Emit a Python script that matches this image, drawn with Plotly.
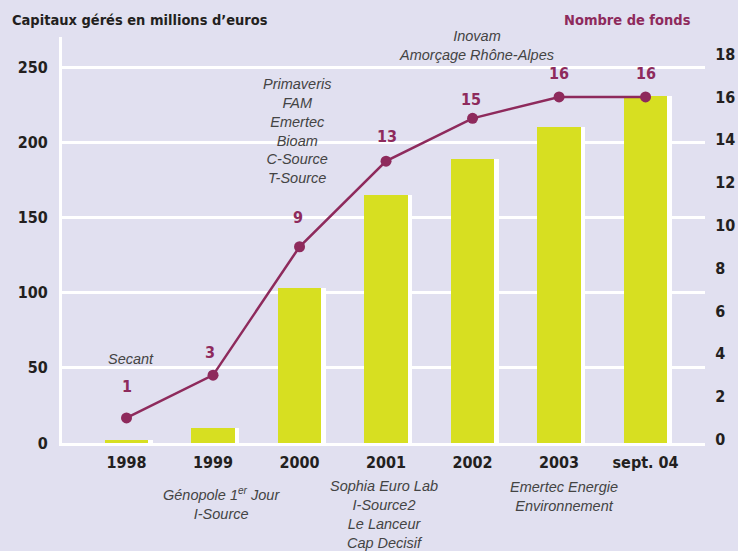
import plotly.graph_objects as go

categories = ["1998", "1999", "2000", "2001", "2002", "2003", "sept. 04"]
capitaux = [2, 10, 103, 165, 189, 210, 231]
nb_fonds = [1, 3, 9, 13, 15, 16, 16]
left_ticks = [0, 50, 100, 150, 200, 250]
right_ticks = [0, 2, 4, 6, 8, 10, 12, 14, 16, 18]

above_notes = [
    (0, "Secant"),
    (2, "Primaveris<br>FAM<br>Emertec<br>Bioam<br>C-Source<br>T-Source"),
    (4, "Inovam<br>Amorçage Rhône-Alpes"),
]
below_notes = [
    (1, "Génopole 1<sup>er</sup> Jour<br>I-Source"),
    (3, "Sophia Euro Lab<br>I-Source2<br>Le Lanceur<br>Cap Decisif"),
    (5, "Emertec Energie<br>Environnement"),
]

BG = "#e1e0f0"
BAR = "#d7df21"
LINE = "#8e2a5c"
DARK = "#231f20"
COND = "DejaVu Sans Condensed, Liberation Sans Narrow, Roboto, sans-serif"
ITAL = "Liberation Sans, Arial, sans-serif"

# style: pixel offsets of the count labels relative to their points
label_yshift = [31, 23, 29, 25, 19, 23, 23]
label_xshift = [0, -3, -2, 1, -2, 0, 0]

xs = list(range(len(categories)))

fig = go.Figure()
# white "shadow" bars offset right
fig.add_trace(go.Bar(x=[x + 0.055 for x in xs], y=capitaux, width=0.5,
                     marker=dict(color="white", line=dict(width=0)),
                     hoverinfo="skip", showlegend=False))
fig.add_trace(go.Bar(x=xs, y=capitaux, width=0.5,
                     marker=dict(color=BAR, line=dict(width=0)),
                     showlegend=False))
fig.add_trace(go.Scatter(x=xs, y=nb_fonds, yaxis="y2", mode="lines+markers",
                         line=dict(color=LINE, width=2.5),
                         marker=dict(color=LINE, size=11),
                         showlegend=False))

annotations = []
for x, v, dy, dx in zip(xs, nb_fonds, label_yshift, label_xshift):
    annotations.append(dict(x=x, y=v, xref="x", yref="y2", text="<b>%d</b>" % v,
                            showarrow=False, yshift=dy, xshift=dx,
                            font=dict(family=COND, size=16, color=LINE)))

note_pos_above = {0: (0.207, 4), 2: (0.768, -3), 4: (0.979, 4)}
for x, t in above_notes:
    py, xs_ = note_pos_above[x]
    annotations.append(dict(x=x, y=py, xref="x", yref="paper", text="<i>" + t + "</i>",
                            showarrow=False, xshift=xs_, yanchor="middle",
                            font=dict(family=ITAL, size=14.5, color="#444444")))
note_pos_below = {1: (-0.148, 8), 3: (-0.176, -2), 5: (-0.131, 5)}
for x, t in below_notes:
    py, xs_ = note_pos_below[x]
    annotations.append(dict(x=x, y=py, xref="x", yref="paper", text="<i>" + t + "</i>",
                            showarrow=False, xshift=xs_, yanchor="middle",
                            font=dict(family=ITAL, size=14.5, color="#444444")))

annotations.append(dict(x=-0.081, y=1.042, xref="paper", yref="paper", xanchor="left",
                        yanchor="middle", showarrow=False,
                        text="<b>Capitaux gérés en millions d’euros</b>",
                        font=dict(family=COND, size=14.5, color=DARK)))
annotations.append(dict(x=0.879, y=1.042, xref="paper", yref="paper", xanchor="center",
                        yanchor="middle", showarrow=False,
                        text="<b>Nombre de fonds</b>",
                        font=dict(family=COND, size=14.5, color=LINE)))

fig.update_layout(
    width=738, height=551,
    paper_bgcolor=BG, plot_bgcolor=BG,
    margin=dict(l=62, r=33, t=37, b=108, autoexpand=False),
    barmode="overlay", bargap=0,
    annotations=annotations,
    xaxis=dict(range=[-0.746, 6.687], tickvals=xs, ticktext=["<b>%s</b>" % c for c in categories],
               showgrid=False, zeroline=False, showline=True, linecolor="white", linewidth=3,
               ticks="outside", ticklen=3, tickcolor="rgba(0,0,0,0)", automargin=False,
               tickfont=dict(family=COND, size=16, color=DARK), fixedrange=True),
    yaxis=dict(range=[0, 270], tickvals=left_ticks, ticktext=["<b>%d</b>" % v for v in left_ticks],
               showgrid=True, gridcolor="white", gridwidth=3, zeroline=False,
               showline=True, linecolor="white", linewidth=3, automargin=False,
               ticks="outside", ticklen=8, tickcolor="rgba(0,0,0,0)",
               tickfont=dict(family=COND, size=16, color=DARK)),
    yaxis2=dict(range=[-0.17, 18.8], overlaying="y", side="right",
                tickvals=right_ticks, ticktext=["<b>%d</b>" % v for v in right_ticks],
                showgrid=False, zeroline=False, showline=False, automargin=False,
                ticks="outside", ticklen=6, tickcolor="rgba(0,0,0,0)",
                tickfont=dict(family=COND, size=16, color=DARK)),
)

fig.write_html("out.html", config={"displayModeBar": False},
               post_script="document.body.style.margin='0';document.body.style.overflow='hidden';")
